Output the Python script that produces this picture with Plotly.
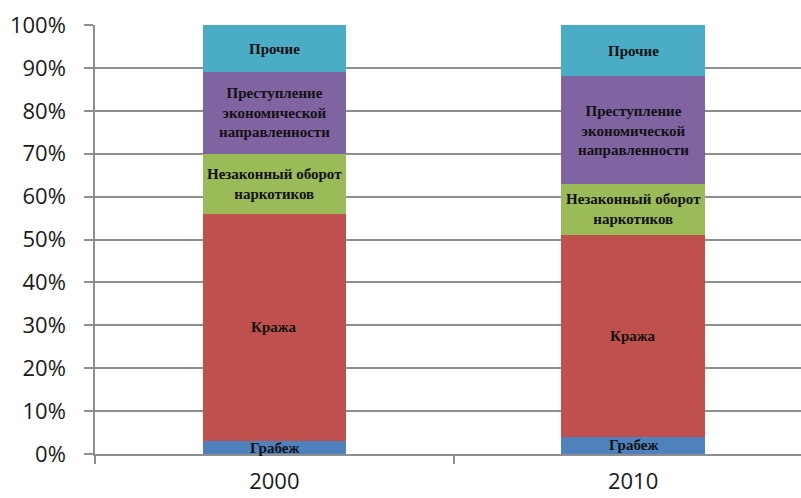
import plotly.graph_objects as go

years = ["2000", "2010"]
categories = [
    "Грабеж",
    "Кража",
    "Незаконный оборот<br>наркотиков",
    "Преступление<br>экономической<br>направленности",
    "Прочие",
]
shares = {
    "Грабеж": [3, 4],
    "Кража": [53, 47],
    "Незаконный оборот<br>наркотиков": [14, 12],
    "Преступление<br>экономической<br>направленности": [19, 25],
    "Прочие": [11, 12],
}
colors = ["#4F81BD", "#C0504D", "#9BBB59", "#8064A2", "#4BACC6"]
y_ticks = [0, 10, 20, 30, 40, 50, 60, 70, 80, 90, 100]

fig = go.Figure()
for cat, col in zip(categories, colors):
    fig.add_trace(go.Bar(
        x=years,
        y=[v / 100 for v in shares[cat]],
        name=cat,
        marker=dict(color=col, line=dict(width=0)),
        width=0.4,
        hoverinfo="skip",
    ))

# segment labels centred in each stacked block (x given as category index)
for i, yr in enumerate(years):
    base = 0.0
    for cat in categories:
        v = shares[cat][i] / 100
        fig.add_annotation(
            x=i, y=base + v / 2, text=cat, showarrow=False,
            font=dict(family="Liberation Serif", size=15, weight="bold",
                      color="#111111"),
            xref="x", yref="y", align="center",
        )
        base += v

grid_col = "#8f8f8f"
fig.update_layout(
    barmode="stack",
    width=801, height=498,
    margin=dict(l=95, r=0, t=25, b=44),
    paper_bgcolor="white", plot_bgcolor="white",
    showlegend=False,
    font=dict(family="Open Sans", color="#1a1a1a"),
)
fig.update_xaxes(
    type="category",
    range=[-0.5, 1.468],
    tickson="boundaries",
    ticks="outside", ticklen=8, tickcolor=grid_col, tickwidth=1.5,
    ticklabelstandoff=7,
    showline=True, linecolor=grid_col, linewidth=1.5,
    showgrid=False,
    tickfont=dict(size=22, family="Open Sans", color="#1a1a1a"),
)
fig.update_yaxes(
    range=[0, 1],
    tickvals=[t / 100 for t in y_ticks],
    ticktext=[f"{t}%" for t in y_ticks],
    ticks="outside", ticklen=9, tickcolor=grid_col, tickwidth=1.5,
    ticklabelstandoff=14,
    showline=True, linecolor=grid_col, linewidth=1.5,
    showgrid=True, gridcolor=grid_col, gridwidth=1.5,
    zeroline=False,
    tickfont=dict(size=22, family="Open Sans", color="#1a1a1a"),
)

fig.write_html("out.html")
